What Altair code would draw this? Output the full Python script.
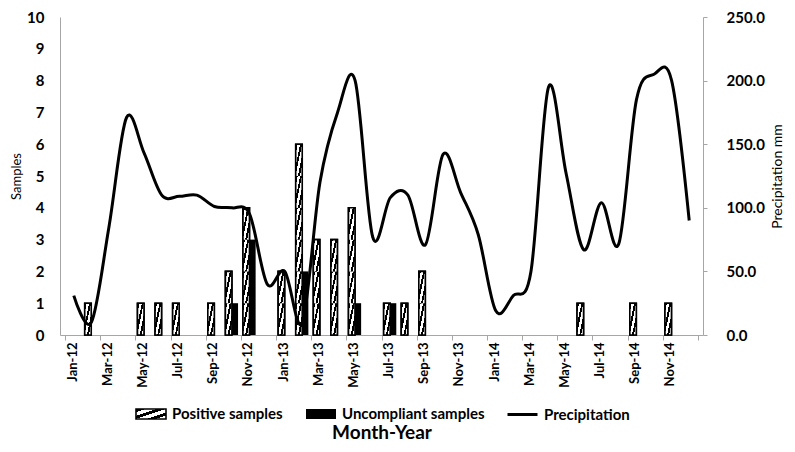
import altair as alt
import pandas as pd

# ---------------- data ----------------
months = ["Jan-12", "Feb-12", "Mar-12", "Apr-12", "May-12", "Jun-12", "Jul-12", "Aug-12",
          "Sep-12", "Oct-12", "Nov-12", "Dec-12", "Jan-13", "Feb-13", "Mar-13", "Apr-13",
          "May-13", "Jun-13", "Jul-13", "Aug-13", "Sep-13", "Oct-13", "Nov-13", "Dec-13",
          "Jan-14", "Feb-14", "Mar-14", "Apr-14", "May-14", "Jun-14", "Jul-14", "Aug-14",
          "Sep-14", "Oct-14", "Nov-14", "Dec-14"]
tick_labels = ["Jan-12", "Mar-12", "May-12", "Jul-12", "Sep-12", "Nov-12",
               "Jan-13", "Mar-13", "May-13", "Jul-13", "Sep-13", "Nov-13",
               "Jan-14", "Mar-14", "May-14", "Jul-14", "Sep-14", "Nov-14", ""]
positive = [0, 1, 0, 0, 1, 1, 1, 0, 1, 2, 4, 0, 2, 6, 3, 3, 4, 0,
            1, 1, 2, 0, 0, 0, 0, 0, 0, 0, 0, 1, 0, 0, 1, 0, 1, 0]
uncompliant = [0, 0, 0, 0, 0, 0, 0, 0, 0, 1, 3, 0, 0, 2, 0, 0, 1, 0,
               1, 0, 0, 0, 0, 0, 0, 0, 0, 0, 0, 0, 0, 0, 0, 0, 0, 0]
precip = [31, 10, 85, 171, 143, 110, 109, 110, 101, 100, 95, 40,
          50, 10, 120, 175, 200, 77, 108, 110, 71, 142, 112, 79,
          19, 31, 50, 195, 127, 67, 104, 72, 185, 205, 200, 90]
series_names = ["Positive samples", "Uncompliant samples", "Precipitation"]

# ---------------- tables built from the lists ----------------
slot = [i + 0.5 for i in range(len(months))]
line_df = pd.DataFrame({"t": slot, "month": months, "precip": precip,
                        "s3": [series_names[2]] * len(months)})
pos_df = pd.DataFrame({"t": slot, "month": months, "pos": positive,
                       "s1": [series_names[0]] * len(months)})
pos_df = pos_df[pos_df["pos"] > 0]
unc_df = pd.DataFrame({"t": slot, "month": months, "unc": uncompliant,
                       "s2": [series_names[1]] * len(months)})
unc_df = unc_df[unc_df["unc"] > 0]
seg_df = pd.DataFrame([{"t": slot[i], "y0": j, "y1": j + 1}
                       for i, n in enumerate(positive) for j in range(n)])

FONT = "Lato"
GREY = "#a6a6a6"
W, H = 643, 318
RECT = "M-1.5,-0.5H1.5V0.5H-1.5Z"
DASH = "M-1.5,0H1.5"


def stripes(periods, dark=0.45):
    stops = []
    for i in range(periods):
        a = i / periods
        b = (i + dark) / periods
        c = (i + 1) / periods
        stops += [{"color": "black", "offset": a}, {"color": "black", "offset": b},
                  {"color": "white", "offset": b}, {"color": "white", "offset": c}]
    return {"gradient": "linear", "stops": stops, "x1": 0, "y1": 0, "x2": 1, "y2": 1}


label_expr = "[" + ",".join("'" + s + "'" for s in tick_labels) + "][round(datum.value/2)]"

x_scale = alt.Scale(domain=[0, 36], nice=False, zero=False)
x_axis = alt.Axis(values=list(range(0, 37, 2)), labelExpr=label_expr, labelAngle=270,
                  labelOffset=7, grid=False, tickSize=5, tickColor=GREY,
                  domainColor=GREY, labelFont=FONT, labelFontWeight="bold",
                  labelFontSize=13, labelColor="black", labelPadding=2,
                  title="Month-Year", titleFont=FONT, titleFontSize=19,
                  titleFontWeight="bold", titleColor="black", titlePadding=36)
ys_scale = alt.Scale(domain=[0, 10], nice=False)
ys_axis = alt.Axis(values=list(range(0, 11)), grid=False, ticks=False, domainColor=GREY,
                   labelFont=FONT, labelFontWeight="bold", labelFontSize=15,
                   labelColor="black", labelPadding=16, title="Samples",
                   titleFont=FONT, titleFontSize=13, titleFontWeight="normal",
                   titleColor="black", titlePadding=3)
yp_scale = alt.Scale(domain=[0, 250], nice=False)
yp_axis = alt.Axis(orient="right", values=[0, 50, 100, 150, 200, 250], format=".1f",
                   grid=False, tickSize=4, tickColor=GREY, domainColor=GREY,
                   labelFont=FONT, labelFontWeight="bold", labelFontSize=15,
                   labelColor="black", labelPadding=19, title="Precipitation mm",
                   titleFont=FONT, titleFontSize=14, titleFontWeight="normal",
                   titleColor="black", titleAngle=270, titlePadding=20)


def legend(x, shape, sw=1.6):
    return alt.Legend(orient="none", legendX=x, legendY=386, title=None,
                      symbolType=shape, symbolSize=400, labelOffset=10,
                      labelFont=FONT, labelFontSize=15, labelFontWeight="bold",
                      labelColor="black", symbolOpacity=1, symbolStrokeWidth=sw)


X = alt.X("t:Q", scale=x_scale, axis=x_axis)

# outline + stripes drawn first (carries the legend)
base_pos = alt.Chart(pos_df).mark_bar(width=6.5, xOffset=-3.4, fill=stripes(3),
                                      strokeWidth=1.6).encode(
    x=X,
    y=alt.Y("pos:Q", scale=ys_scale, axis=ys_axis),
    stroke=alt.Stroke("s1:N", scale=alt.Scale(domain=[series_names[0]], range=["black"]),
                      legend=legend(80, RECT)),
)
seg = alt.Chart(seg_df).mark_bar(width=6.5, xOffset=-3.4, fill=stripes(3), strokeWidth=0).encode(
    x=X,
    y=alt.Y("y0:Q", scale=ys_scale, axis=ys_axis),
    y2="y1:Q",
)
outline = alt.Chart(pos_df).mark_bar(width=6.5, xOffset=-3.4, fill="transparent",
                                     stroke="black", strokeWidth=1.6).encode(
    x=X,
    y=alt.Y("pos:Q", scale=ys_scale, axis=ys_axis),
)
black = alt.Chart(unc_df).mark_bar(width=6, xOffset=3).encode(
    x=X,
    y=alt.Y("unc:Q", scale=ys_scale, axis=ys_axis),
    fill=alt.Fill("s2:N", scale=alt.Scale(domain=[series_names[1]], range=["black"]),
                  legend=legend(250, RECT)),
)
bars = alt.layer(base_pos, seg, outline, black)

line = alt.Chart(line_df).mark_line(interpolate="cardinal", strokeWidth=3).encode(
    x=X,
    y=alt.Y("precip:Q", scale=yp_scale, axis=yp_axis),
    color=alt.Color("s3:N", scale=alt.Scale(domain=[series_names[2]], range=["black"]),
                    legend=legend(451, DASH, 3)),
)

chart = alt.layer(bars, line).resolve_scale(y="independent").properties(
    width=W, height=H,
    autosize=alt.AutoSizeParams(type="none"),
    padding={"left": 52, "top": 9, "right": 84, "bottom": 109},
    background="white",
).configure_view(stroke=None)

chart.save("out.html", embed_options={"renderer": "svg", "actions": False})
